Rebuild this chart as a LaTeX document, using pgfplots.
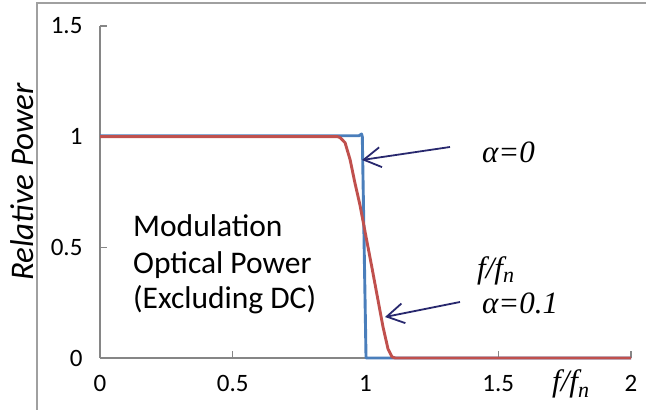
\documentclass[border=0pt]{standalone}
\usepackage{fontspec}
\setmainfont{Carlito}
\newfontfamily\tnrfont{Liberation Serif}
\usepackage{pgfplots}
\pgfplotsset{compat=1.18}
\usetikzlibrary{arrows.meta}
\definecolor{cblue}{RGB}{74,126,187}
\definecolor{cred}{RGB}{192,80,77}
\definecolor{axgray}{RGB}{134,134,134}
\definecolor{frgray}{RGB}{160,160,160}
\definecolor{navy}{RGB}{40,40,110}
\begin{document}
\begin{tikzpicture}[x=1pt,y=1pt]
\useasboundingbox (0,0) rectangle (646,410);
\clip (0,0) rectangle (646,410);
\draw[frgray, line width=1.5pt] (37,-50) -- (37,407) -- (700,407);
\begin{axis}[
  at={(100pt,52pt)}, anchor=south west,
  scale only axis, width=531pt, height=332pt,
  xmin=0, xmax=2, ymin=0, ymax=1.5,
  axis lines*=left,
  axis line style={axgray, line width=1.2pt},
  xtick={0,0.5,1,1.5,2}, ytick={0,0.5,1,1.5},
  xticklabels={0,0.5,1,1.5,2},
  yticklabels={0,0.5,1,1.5},
  tick align=inside, major tick length=7pt,
  tick style={axgray, line width=1.2pt},
  ticklabel style={font=\fontsize{25}{29}\selectfont},
  xticklabel style={yshift=-14pt},
  yticklabel style={xshift=-14pt},
  clip=false,
]
\addplot[cblue, line width=2.9pt, line join=round] coordinates {
 (0,1.004) (0.975,1.004) (0.985,1.012) (0.988,1.0) (1.002,0) (2,0)
};
\addplot[cred, line width=2.9pt, line join=round] coordinates {
 (0,1) (0.895,1) (0.905,0.995) (0.923,0.973) (0.942,0.896) (0.96,0.792)
 (0.979,0.692) (1.0,0.56) (1.024,0.41) (1.047,0.262) (1.066,0.14)
 (1.085,0.04) (1.1,0.005) (1.112,0) (2,0)
};
\end{axis}
\node[rotate=90, anchor=base, font=\fontsize{33}{38}\selectfont\itshape] at (33,228) {Relative Power};
\node[anchor=base west, inner sep=0, font=\fontsize{31.5}{36}\selectfont] at (133,173) {Modulation};
\node[anchor=base west, inner sep=0, font=\fontsize{31.5}{36}\selectfont] at (133,136) {Optical Power};
\node[anchor=base west, inner sep=0, font=\fontsize{31.5}{36}\selectfont] at (133,101) {(Excluding DC)};
\node[anchor=base west, inner sep=0, font=\tnrfont\fontsize{31}{34}\selectfont\itshape] at (482,247) {α=0};
\node[anchor=base west, inner sep=0, font=\tnrfont\fontsize{31}{34}\selectfont\itshape] at (477,131) {f/f\raisebox{-4pt}{\fontsize{22}{22}\selectfont n}};
\node[anchor=base west, inner sep=0, font=\tnrfont\fontsize{31}{34}\selectfont\itshape] at (482,96) {α=0.1};
\node[anchor=base west, inner sep=0, font=\tnrfont\fontsize{31}{34}\selectfont\itshape] at (552,18) {f/f\raisebox{-5pt}{\fontsize{22}{22}\selectfont n}};
\draw[navy, line width=1.8pt, -{Straight Barb[length=17pt,width=20pt]}] (450,263) -- (362,250);
\draw[navy, line width=1.8pt, -{Straight Barb[length=17pt,width=20pt]}] (460,108) -- (385,93);
\end{tikzpicture}
\end{document}
